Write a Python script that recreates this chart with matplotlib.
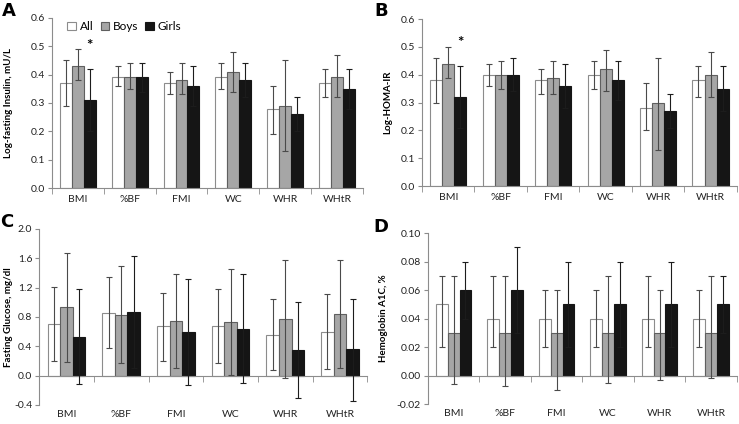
import numpy as np
import matplotlib
matplotlib.use('Agg')
import matplotlib.pyplot as plt
from matplotlib.transforms import blended_transform_factory

plt.rcParams['font.family'] = ['Lato', 'DejaVu Sans']

categories = ['BMI', '%BF', 'FMI', 'WC', 'WHR', 'WHtR']
groups = ['All', 'Boys', 'Girls']

# panel A: log-fasting insulin
a_mean = {'All': [0.37, 0.39, 0.37, 0.39, 0.28, 0.37],
          'Boys': [0.43, 0.39, 0.38, 0.41, 0.29, 0.39],
          'Girls': [0.31, 0.39, 0.36, 0.38, 0.26, 0.35]}
a_low = {'All': [0.29, 0.36, 0.33, 0.35, 0.19, 0.32],
         'Boys': [0.38, 0.35, 0.33, 0.34, 0.13, 0.32],
         'Girls': [0.20, 0.34, 0.29, 0.32, 0.20, 0.28]}
a_high = {'All': [0.45, 0.43, 0.41, 0.44, 0.36, 0.42],
          'Boys': [0.49, 0.44, 0.44, 0.48, 0.45, 0.47],
          'Girls': [0.42, 0.44, 0.43, 0.44, 0.32, 0.42]}

# panel B: log-HOMA-IR
b_mean = {'All': [0.38, 0.40, 0.38, 0.40, 0.28, 0.38],
          'Boys': [0.44, 0.40, 0.39, 0.42, 0.30, 0.40],
          'Girls': [0.32, 0.40, 0.36, 0.38, 0.27, 0.35]}
b_low = {'All': [0.30, 0.36, 0.33, 0.35, 0.20, 0.32],
         'Boys': [0.39, 0.35, 0.33, 0.34, 0.13, 0.32],
         'Girls': [0.21, 0.34, 0.28, 0.31, 0.21, 0.27]}
b_high = {'All': [0.46, 0.44, 0.42, 0.45, 0.37, 0.43],
          'Boys': [0.50, 0.45, 0.45, 0.49, 0.46, 0.48],
          'Girls': [0.43, 0.46, 0.44, 0.45, 0.33, 0.43]}

# panel C: fasting glucose
c_mean = {'All': [0.71, 0.85, 0.67, 0.68, 0.56, 0.60],
          'Boys': [0.93, 0.83, 0.75, 0.73, 0.77, 0.84],
          'Girls': [0.53, 0.87, 0.59, 0.64, 0.35, 0.36]}
c_low = {'All': [0.20, 0.37, 0.20, 0.17, 0.08, 0.09],
         'Boys': [0.19, 0.17, 0.11, 0.01, -0.03, 0.10],
         'Girls': [-0.12, 0.11, -0.13, -0.10, -0.30, -0.34]}
c_high = {'All': [1.21, 1.34, 1.13, 1.18, 1.04, 1.11],
          'Boys': [1.67, 1.49, 1.39, 1.45, 1.57, 1.58],
          'Girls': [1.18, 1.63, 1.32, 1.38, 1.00, 1.05]}

# panel D: hemoglobin A1C
d_mean = {'All': [0.05, 0.04, 0.04, 0.04, 0.04, 0.04],
          'Boys': [0.03, 0.03, 0.03, 0.03, 0.03, 0.03],
          'Girls': [0.06, 0.06, 0.05, 0.05, 0.05, 0.05]}
d_low = {'All': [0.02, 0.02, 0.02, 0.02, 0.02, 0.02],
         'Boys': [-0.006, -0.007, -0.010, -0.005, -0.003, -0.002],
         'Girls': [0.04, 0.03, 0.02, 0.02, 0.02, 0.03]}
d_high = {'All': [0.07, 0.07, 0.06, 0.06, 0.07, 0.06],
          'Boys': [0.07, 0.07, 0.06, 0.07, 0.06, 0.07],
          'Girls': [0.08, 0.09, 0.08, 0.08, 0.08, 0.07]}

face = {'All': 'white', 'Boys': '#a6a6a6', 'Girls': '#151515'}
edge = {'All': '#8c8c8c', 'Boys': '#5f5f5f', 'Girls': '#151515'}
ecol = {'All': '#4a4a4a', 'Boys': '#4a4a4a', 'Girls': '#1c1c1c'}
axcol = '#8c8c8c'

fig = plt.figure(figsize=(7.39, 4.24), dpi=100)


def panel(rect, mean, low, high, ylim, yticks, fmt, ylabel, labcoord, zero_axis=False):
    ax = fig.add_axes(rect)
    x = np.arange(len(categories))
    w = 0.23
    for i, g in enumerate(groups):
        m = np.array(mean[g])
        err = [m - np.array(low[g]), np.array(high[g]) - m]
        ax.bar(x + (i - 1) * w, m, w, color=face[g], edgecolor=edge[g], linewidth=0.8,
               label=g, zorder=2)
        ax.errorbar(x + (i - 1) * w, m, yerr=err, fmt='none', ecolor=ecol[g],
                    elinewidth=0.8, capsize=2, capthick=0.8, zorder=3)
    ax.set_xlim(-0.5, len(categories) - 0.5)
    ax.set_ylim(*ylim)
    ax.set_yticks(yticks)
    ax.set_yticklabels([fmt.format(v) for v in yticks], fontsize=7.5, color='#222222')
    ax.set_xticks(np.arange(len(categories) + 1) - 0.5, minor=True)
    ax.set_xticks(x)
    for s in ['top', 'right']:
        ax.spines[s].set_visible(False)
    ax.spines['left'].set_color(axcol)
    ax.spines['bottom'].set_color(axcol)
    ax.tick_params(axis='y', length=3, color=axcol, pad=2)
    ax.tick_params(axis='x', which='minor', length=4, color=axcol)
    ax.tick_params(axis='x', which='major', length=0)
    if zero_axis:
        ax.spines['bottom'].set_position(('data', 0))
        ax.set_xticklabels([])
        tr = blended_transform_factory(ax.transData, ax.transAxes)
        for xi, c in zip(x, categories):
            ax.text(xi, -0.03, c, transform=tr, ha='center', va='top', fontsize=7.5,
                    color='#222222')
    else:
        ax.set_xticklabels(categories, fontsize=7.5, color='#222222')
        ax.tick_params(axis='x', which='major', pad=5)
    ax.set_ylabel(ylabel, fontsize=7, fontweight='bold')
    ax.yaxis.set_label_coords(labcoord, 0.5)
    return ax


axA = panel([0.0704, 0.5566, 0.4206, 0.401], a_mean, a_low, a_high, (0, 0.6),
            np.arange(0, 0.61, 0.1), '{:.1f}', 'Log-fasting Insulin, mU/L', -0.125)
axA.legend(loc='upper left', bbox_to_anchor=(0.015, 1.045), ncol=3, frameon=False,
           fontsize=8.5, handlelength=0.75, handleheight=0.75, handletextpad=0.3,
           columnspacing=0.6)
axA.text(0.23, 0.50, '*', ha='center', va='center', fontsize=11, fontweight='bold')

axB = panel([0.571, 0.561, 0.426, 0.394], b_mean, b_low, b_high, (0, 0.6),
            np.arange(0, 0.61, 0.1), '{:.1f}', 'Log-HOMA-IR', -0.095)
axB.text(0.23, 0.515, '*', ha='center', va='center', fontsize=11, fontweight='bold')

axC = panel([0.053, 0.045, 0.444, 0.415], c_mean, c_low, c_high, (-0.4, 2.0),
            np.arange(-0.4, 2.01, 0.4), '{:.1f}', 'Fasting Glucose, mg/dl', -0.08,
            zero_axis=True)

axD = panel([0.579, 0.047, 0.418, 0.403], d_mean, d_low, d_high, (-0.02, 0.10),
            np.arange(-0.02, 0.101, 0.02), '{:.2f}', 'Hemoglobin A1C, %', -0.13,
            zero_axis=True)

for lbl, xy in zip(['A', 'B', 'C', 'D'], [(0.003, 0.995), (0.507, 0.995),
                                          (0.0, 0.497), (0.505, 0.485)]):
    fig.text(xy[0], xy[1], lbl, ha='left', va='top', fontsize=13, fontweight='bold',
             family='DejaVu Sans')

fig.savefig('out.png', dpi=100)
